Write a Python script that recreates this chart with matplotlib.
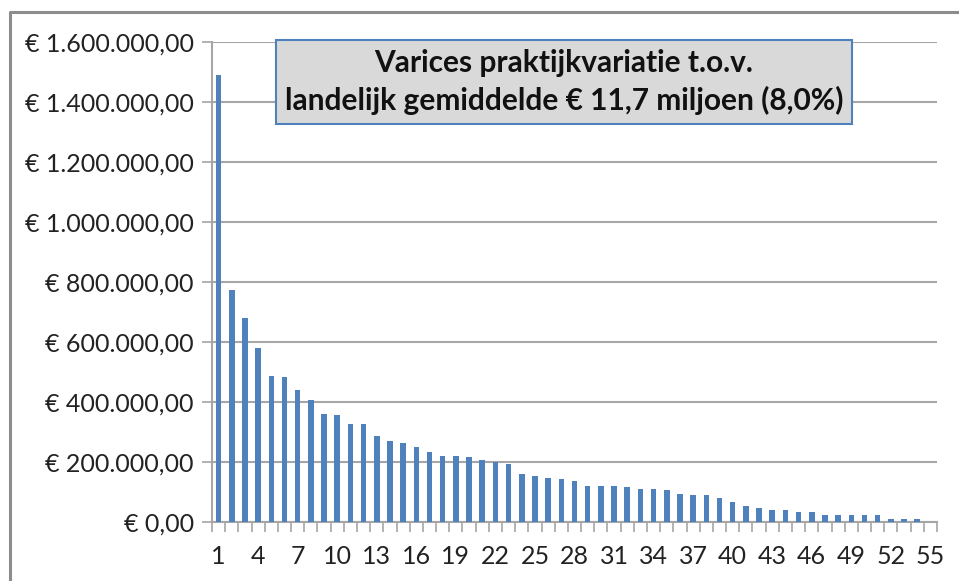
import matplotlib
matplotlib.use("Agg")
import matplotlib.pyplot as plt
from matplotlib.lines import Line2D
from matplotlib.ticker import FuncFormatter, FixedLocator

# praktijk rangnummer 1..55 en afwijking in euro's
praktijk = list(range(1, 56))
afwijking = [
    1491000, 772000, 681000, 581000, 487000, 482000, 439000, 405000, 360000, 356000,
    326000, 326000, 287000, 270000, 261000, 248000, 231000, 218000, 218000, 215000,
    206000, 199000, 191000, 158000, 153000, 145000, 141000, 137000, 119000, 119000,
    119000, 115000, 110000, 110000, 106000, 91000, 88000, 88000, 80000, 66000,
    53000, 45000, 40000, 40000, 31000, 31000, 23000, 23000, 23000, 23000,
    23000, 9000, 9000, 9000, 0,
]
xtick_labels = praktijk[::3]
titel = "Varices praktijkvariatie t.o.v.\nlandelijk gemiddelde € 11,7 miljoen (8,0%)"

plt.rcParams["font.family"] = ["Lato", "DejaVu Sans"]

fig = plt.figure(figsize=(9.59, 5.81), dpi=100)
ax = fig.add_axes([212 / 959, 1 - 521.7 / 581, 725 / 959, 479.7 / 581])

ax.bar(praktijk, afwijking, width=0.42, color="#4f81bd", zorder=3)

ax.set_xlim(0.5, 55.5)
ax.set_ylim(0, 1600000)
ax.set_yticks(range(0, 1600001, 200000))


def euro(v, pos):
    s = f"{v:,.2f}".replace(",", "X").replace(".", ",").replace("X", ".")
    return "€ " + s


ax.yaxis.set_major_formatter(FuncFormatter(euro))
ax.yaxis.grid(True, color="#a6a6a6", linewidth=1.5, zorder=0)

ax.xaxis.set_major_locator(FixedLocator(xtick_labels))
ax.set_xticklabels([str(v) for v in xtick_labels])
ax.xaxis.set_minor_locator(FixedLocator([i + 0.5 for i in range(0, 56)]))
ax.tick_params(axis="x", which="major", length=0, pad=17, labelsize=18, colors="#222222")
ax.tick_params(axis="x", which="minor", length=7, width=1.2, color="#a6a6a6", direction="out")
ax.tick_params(axis="y", length=7, width=1.2, color="#a6a6a6", labelsize=18,
               labelcolor="#222222", pad=6)

for side in ["top", "right"]:
    ax.spines[side].set_visible(False)
for side in ["left", "bottom"]:
    ax.spines[side].set_color("#a6a6a6")
    ax.spines[side].set_linewidth(1.5)

fig.text(564 / 959, 1 - 82 / 581, titel, ha="center", va="center", fontsize=21.5,
         fontweight="bold", color="#111111", linespacing=1.4,
         bbox=dict(boxstyle="square,pad=0.3", facecolor="#d9d9d9",
                   edgecolor="#4f81bd", linewidth=1.5))

# grijze kaderrand linksboven
fig.add_artist(Line2D([9.5 / 959, 9.5 / 959, 1], [0, 1 - 12 / 581, 1 - 12 / 581],
                      color="#8c8c8c", linewidth=2.2, transform=fig.transFigure))

fig.savefig("out.png", dpi=100)
